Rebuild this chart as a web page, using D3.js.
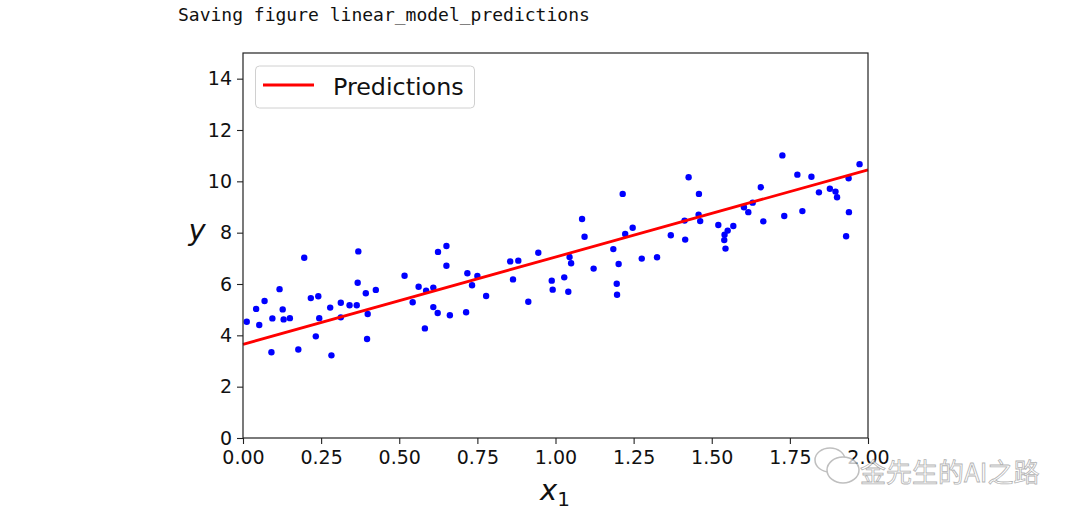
<!DOCTYPE html>
<html><head><meta charset="utf-8">
<script src="https://cdn.jsdelivr.net/npm/d3@7"></script>
<style>body{margin:0;background:#fff;}svg{display:block;}</style>
</head><body>
<script>
const xValues = [0.012,0.042,0.052,0.069,0.091,0.094,0.117,0.127,0.130,0.150,0.177,0.196,0.217,0.233,0.241,0.244,0.279,0.283,0.313,0.313,0.341,0.364,0.367,0.369,0.393,0.399,0.397,0.425,
0.517,0.543,0.562,0.582,0.586,0.609,0.609,0.623,0.624,0.651,0.651,0.662,0.714,0.718,0.733,0.750,0.778,0.855,0.864,0.881,0.913,0.945,
0.988,0.991,1.028,1.041,1.045,1.050,1.085,1.093,1.122,1.185,1.196,1.197,1.202,1.215,1.223,1.247,1.276,1.325,1.369,1.413,1.415,1.426,1.459,1.458,1.463,
1.521,1.551,1.541,1.540,1.544,1.569,1.603,1.617,1.631,1.657,1.665,1.726,1.732,1.774,1.790,1.819,1.843,1.878,1.896,1.901,1.930,1.938,1.939,1.973];
const yValues = [4.53,5.03,4.40,5.34,3.34,4.66,5.80,5.01,4.62,4.67,3.45,7.02,5.45,3.96,5.52,4.67,5.08,3.22,5.27,4.70,5.17,5.17,6.05,7.27,5.64,4.83,3.86,5.77,
6.32,5.29,5.89,4.27,5.74,5.86,5.10,4.87,7.25,7.48,6.71,4.78,4.90,6.42,5.95,6.31,5.53,6.88,6.18,6.91,5.31,7.22,
6.13,5.78,6.26,5.70,7.05,6.81,8.53,7.84,6.60,7.36,6.01,5.58,6.78,9.51,7.95,8.19,6.99,7.04,7.90,8.47,7.73,10.16,9.51,8.70,8.45,
8.30,8.08,7.92,7.71,7.38,8.26,8.99,8.80,9.17,9.77,8.44,11.01,8.65,10.26,8.84,10.18,9.57,9.71,9.60,9.38,7.86,10.12,8.80,10.67];
const predX = [0, 2];
const predY = [3.65, 10.45];
const xTicks = [0, 0.25, 0.5, 0.75, 1.0, 1.25, 1.5, 1.75, 2.0];
const yTicks = [0, 2, 4, 6, 8, 10, 12, 14];
const legendLabel = "Predictions";
const headerText = "Saving figure linear_model_predictions";
const watermarkText = "金先生的AI之路";

const W = 1080, H = 516;
const m = {left: 243, right: 868, top: 53, bottom: 438};
const svg = d3.select("body").append("svg").attr("width", W).attr("height", H);
const x = d3.scaleLinear().domain([0, 2]).range([m.left, m.right]);
const y = d3.scaleLinear().domain([0, 15]).range([m.bottom, m.top]);

svg.append("text").attr("x", 178).attr("y", 21)
  .attr("font-family", "DejaVu Sans Mono").attr("font-size", 18).attr("fill", "#111")
  .text(headerText);

const pts = xValues.map((v, i) => [v, yValues[i]]);
svg.append("g").selectAll("circle").data(pts).join("circle")
  .attr("cx", d => x(d[0])).attr("cy", d => y(d[1])).attr("r", 3.2).attr("fill", "#0000ff");

svg.append("path").datum(predX.map((v, i) => [v, predY[i]]))
  .attr("d", d3.line().x(d => x(d[0])).y(d => y(d[1])))
  .attr("stroke", "#ff0000").attr("stroke-width", 2.8).attr("fill", "none");

const fmtX = d3.format(".2f");
const xAxis = svg.append("g").attr("transform", `translate(0,${m.bottom})`)
  .call(d3.axisBottom(x).tickValues(xTicks).tickFormat(fmtX).tickSizeOuter(0).tickSize(6).tickPadding(7));
const yAxis = svg.append("g").attr("transform", `translate(${m.left},0)`)
  .call(d3.axisLeft(y).tickValues(yTicks).tickSizeOuter(0).tickSize(6).tickPadding(5));
[xAxis, yAxis].forEach(g => {
  g.select(".domain").remove();
  g.selectAll("line").attr("stroke", "#222").attr("stroke-width", 1.1);
  g.selectAll("text").attr("font-family", "DejaVu Sans").attr("font-size", 19).attr("fill", "#111");
});

svg.append("rect").attr("x", m.left).attr("y", m.top)
  .attr("width", m.right - m.left).attr("height", m.bottom - m.top)
  .attr("fill", "none").attr("stroke", "#222").attr("stroke-width", 1.2);

// legend
const lg = svg.append("g");
lg.append("rect").attr("x", 255.5).attr("y", 66).attr("width", 219).attr("height", 42).attr("rx", 4)
  .attr("fill", "#fff").attr("fill-opacity", 0.8).attr("stroke", "#d0d0d0").attr("stroke-width", 1);
lg.append("line").attr("x1", 263).attr("x2", 314).attr("y1", 85).attr("y2", 85)
  .attr("stroke", "#ff0000").attr("stroke-width", 2.8);
lg.append("text").attr("x", 333).attr("y", 95).attr("font-family", "DejaVu Sans").attr("font-size", 23.8)
  .attr("fill", "#111").text(legendLabel);

// axis labels
svg.append("text").attr("x", 197).attr("y", 240).attr("text-anchor", "middle")
  .attr("font-family", "DejaVu Sans").attr("font-style", "italic").attr("font-size", 29).attr("fill", "#111").text("y");
const xl = svg.append("text").attr("x", 555).attr("y", 500).attr("text-anchor", "middle")
  .attr("font-family", "DejaVu Sans").attr("font-size", 29).attr("fill", "#111");
xl.append("tspan").attr("font-style", "italic").text("x");
xl.append("tspan").attr("font-size", 20).attr("dy", 6).text("1");

// watermark
const wm = svg.append("g").attr("opacity", 0.75);
wm.append("ellipse").attr("cx", 830).attr("cy", 460).attr("rx", 15).attr("ry", 12)
  .attr("fill", "#fff").attr("stroke", "#aaa").attr("stroke-width", 1.5);
wm.append("ellipse").attr("cx", 843).attr("cy", 470).attr("rx", 16).attr("ry", 13)
  .attr("fill", "#fff").attr("stroke", "#aaa").attr("stroke-width", 1.5);
wm.append("text").attr("x", 860).attr("y", 482).attr("font-family", "Noto Sans CJK SC").attr("font-size", 26)
  .attr("fill", "#fff").attr("stroke", "#999").attr("stroke-width", 0.8).text(watermarkText);
</script>
</body></html>
